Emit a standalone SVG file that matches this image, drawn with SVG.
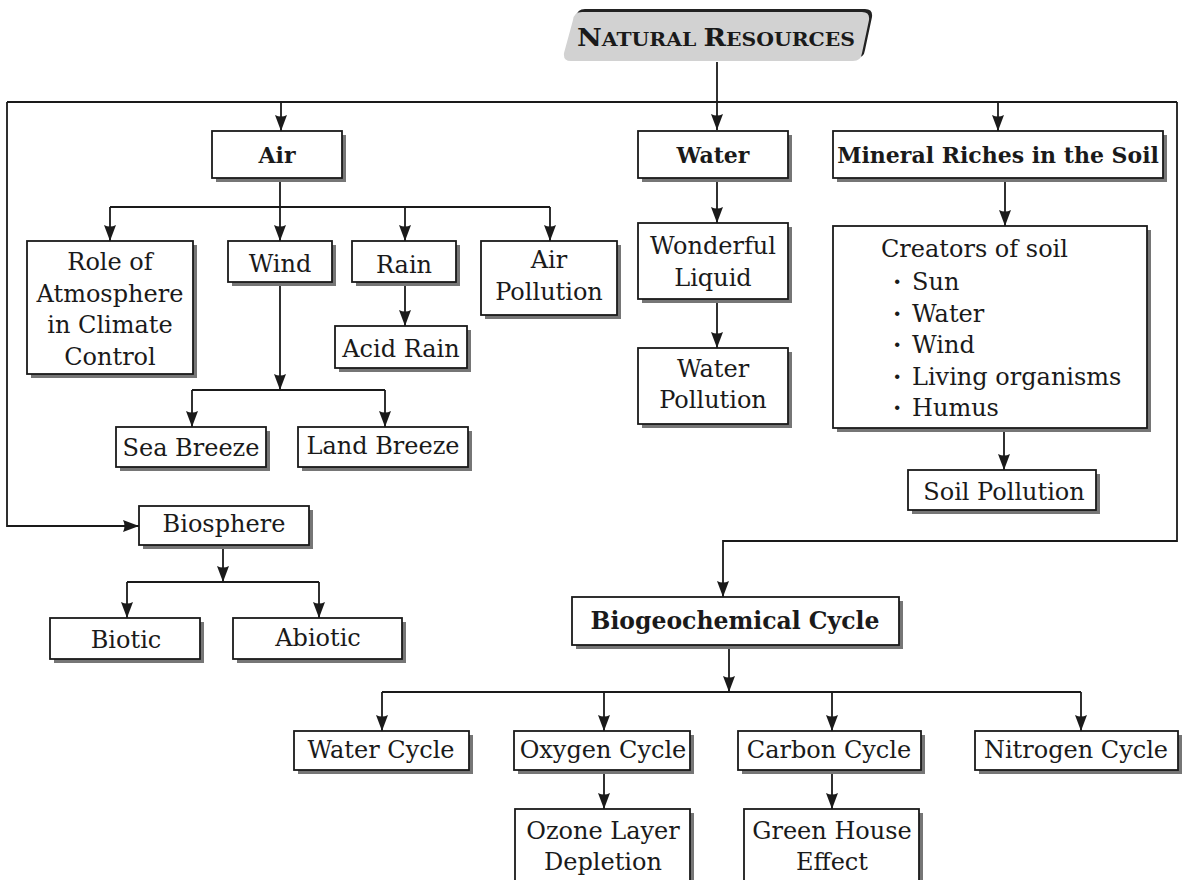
<svg xmlns="http://www.w3.org/2000/svg" width="1185" height="880" viewBox="0 0 1185 880">
<style>
.box{fill:#fff;stroke:#1a1a1a;stroke-width:1.8}
.sh{fill:#767676}
.t{font-family:"DejaVu Serif",serif;font-size:24px;fill:#1a1a1a;text-anchor:middle}
.l{text-anchor:start}
.b{font-weight:bold;font-size:22px}
.bb{font-size:23.5px}
.c{fill:none;stroke:#1a1a1a;stroke-width:1.8}
.a{marker-end:url(#arr)}
</style>
<defs>
<marker id="arr" markerUnits="userSpaceOnUse" markerWidth="16" markerHeight="12" refX="16" refY="6" orient="auto">
<path d="M0,0 L16,6 L0,12 Q3,6 0,0 Z" fill="#1a1a1a"/>
</marker>
</defs>
<rect width="1185" height="880" fill="#fff"/>

<g id="connectors">
<path class="c a" d="M717,62 V130"/>
<path class="c" d="M7,102 H1177"/>
<path class="c a" d="M7,102 V526 H139"/>
<path class="c a" d="M1177,102 V541 H723 V597"/>
<path class="c a" d="M281,102 V131"/>
<path class="c a" d="M998,102 V131"/>
<path class="c" d="M280,178 V207 M110,207 H550"/>
<path class="c a" d="M110,207 V241"/>
<path class="c a" d="M280,207 V241"/>
<path class="c a" d="M405,207 V241"/>
<path class="c a" d="M550,207 V241"/>
<path class="c a" d="M405,282 V326"/>
<path class="c a" d="M280,282 V390"/>
<path class="c" d="M192,390 H385"/>
<path class="c a" d="M192,390 V427"/>
<path class="c a" d="M385,390 V427"/>
<path class="c a" d="M223,545 V582"/>
<path class="c" d="M127,582 H319"/>
<path class="c a" d="M127,582 V618"/>
<path class="c a" d="M319,582 V618"/>
<path class="c a" d="M717,178 V223"/>
<path class="c a" d="M717,299 V348"/>
<path class="c a" d="M1005,178 V226"/>
<path class="c a" d="M1004,428 V470"/>
<path class="c a" d="M729,645 V692"/>
<path class="c" d="M382,692 H1081"/>
<path class="c a" d="M382,692 V731"/>
<path class="c a" d="M604,692 V731"/>
<path class="c a" d="M832,692 V731"/>
<path class="c a" d="M1081,692 V731"/>
<path class="c a" d="M604,770 V809"/>
<path class="c a" d="M832,770 V809"/>
</g>

<g id="natural-resources">
<path d="M585,9 H865 Q873,9 872,17 L865,50 Q864,58 856,58 H574 Q566,58 567,50 L576,17 Q577,9 585,9 Z" fill="#222"/>
<path d="M582,12 H862 Q870,12 869,20 L862,53 Q861,61 853,61 H571 Q563,61 564,53 L573,20 Q574,12 582,12 Z" fill="#d2d2d2"/>
<text class="t" x="716" y="46" font-weight="bold" textLength="278" lengthAdjust="spacingAndGlyphs"><tspan font-size="24">N</tspan><tspan font-size="18">ATURAL </tspan><tspan font-size="24">R</tspan><tspan font-size="18">ESOURCES</tspan></text>
</g>

<g id="air">
<rect class="sh" x="216" y="135" width="130" height="47"/>
<rect class="box" x="212" y="131" width="130" height="47"/>
<text class="t b" x="277" y="163">Air</text>
</g>
<g id="water">
<rect class="sh" x="642" y="135" width="150" height="47"/>
<rect class="box" x="638" y="131" width="150" height="47"/>
<text class="t b" x="713" y="163">Water</text>
</g>
<g id="mineral">
<rect class="sh" x="837" y="135" width="330" height="47"/>
<rect class="box" x="833" y="131" width="330" height="47"/>
<text class="t b" x="998" y="163">Mineral Riches in the Soil</text>
</g>

<g id="role">
<rect class="sh" x="31" y="245" width="166" height="133"/>
<rect class="box" x="27" y="241" width="166" height="133"/>
<text class="t" x="110" y="270">Role of</text>
<text class="t" x="110" y="302">Atmosphere</text>
<text class="t" x="110" y="333">in Climate</text>
<text class="t" x="110" y="365">Control</text>
</g>
<g id="wind">
<rect class="sh" x="232" y="245" width="104" height="41"/>
<rect class="box" x="228" y="241" width="104" height="41"/>
<text class="t" x="280" y="272">Wind</text>
</g>
<g id="rain">
<rect class="sh" x="356" y="245" width="104" height="41"/>
<rect class="box" x="352" y="241" width="104" height="41"/>
<text class="t" x="404" y="273">Rain</text>
</g>
<g id="air-pollution">
<rect class="sh" x="485" y="245" width="136" height="74"/>
<rect class="box" x="481" y="241" width="136" height="74"/>
<text class="t" x="549" y="268">Air</text>
<text class="t" x="549" y="300">Pollution</text>
</g>
<g id="acid-rain">
<rect class="sh" x="339" y="330" width="132" height="42"/>
<rect class="box" x="335" y="326" width="132" height="42"/>
<text class="t" x="401" y="357">Acid Rain</text>
</g>
<g id="sea-breeze">
<rect class="sh" x="120" y="431" width="150" height="40"/>
<rect class="box" x="116" y="427" width="150" height="40"/>
<text class="t" x="191" y="456">Sea Breeze</text>
</g>
<g id="land-breeze">
<rect class="sh" x="302" y="431" width="170" height="40"/>
<rect class="box" x="298" y="427" width="170" height="40"/>
<text class="t" x="383" y="454">Land Breeze</text>
</g>

<g id="biosphere">
<rect class="sh" x="143" y="510" width="170" height="39"/>
<rect class="box" x="139" y="506" width="170" height="39"/>
<text class="t" x="224" y="532">Biosphere</text>
</g>
<g id="biotic">
<rect class="sh" x="54" y="622" width="150" height="41"/>
<rect class="box" x="50" y="618" width="150" height="41"/>
<text class="t" x="126" y="648">Biotic</text>
</g>
<g id="abiotic">
<rect class="sh" x="237" y="622" width="169" height="41"/>
<rect class="box" x="233" y="618" width="169" height="41"/>
<text class="t" x="318" y="646">Abiotic</text>
</g>

<g id="wonderful-liquid">
<rect class="sh" x="642" y="227" width="150" height="76"/>
<rect class="box" x="638" y="223" width="150" height="76"/>
<text class="t" x="713" y="254">Wonderful</text>
<text class="t" x="713" y="286">Liquid</text>
</g>
<g id="water-pollution">
<rect class="sh" x="642" y="352" width="150" height="76"/>
<rect class="box" x="638" y="348" width="150" height="76"/>
<text class="t" x="713" y="377">Water</text>
<text class="t" x="713" y="408">Pollution</text>
</g>

<g id="creators">
<rect class="sh" x="837" y="230" width="314" height="202"/>
<rect class="box" x="833" y="226" width="314" height="202"/>
<text class="t l" x="881" y="257">Creators of soil</text>
<text class="t l" x="893" y="290"><tspan font-weight="bold">·</tspan><tspan x="912">Sun</tspan></text>
<text class="t l" x="893" y="322"><tspan font-weight="bold">·</tspan><tspan x="912">Water</tspan></text>
<text class="t l" x="893" y="353"><tspan font-weight="bold">·</tspan><tspan x="912">Wind</tspan></text>
<text class="t l" x="893" y="385"><tspan font-weight="bold">·</tspan><tspan x="912">Living organisms</tspan></text>
<text class="t l" x="893" y="416"><tspan font-weight="bold">·</tspan><tspan x="912">Humus</tspan></text>
</g>
<g id="soil-pollution">
<rect class="sh" x="912" y="474" width="188" height="40"/>
<rect class="box" x="908" y="470" width="188" height="40"/>
<text class="t" x="1004" y="500">Soil Pollution</text>
</g>

<g id="biogeochemical">
<rect class="sh" x="576" y="601" width="327" height="48"/>
<rect class="box" x="572" y="597" width="327" height="48"/>
<text class="t b bb" x="735" y="629">Biogeochemical Cycle</text>
</g>
<g id="water-cycle">
<rect class="sh" x="298" y="735" width="175" height="39"/>
<rect class="box" x="294" y="731" width="175" height="39"/>
<text class="t" x="381" y="758">Water Cycle</text>
</g>
<g id="oxygen-cycle">
<rect class="sh" x="518" y="735" width="176" height="39"/>
<rect class="box" x="514" y="731" width="176" height="39"/>
<text class="t" x="603" y="758">Oxygen Cycle</text>
</g>
<g id="carbon-cycle">
<rect class="sh" x="742" y="735" width="183" height="39"/>
<rect class="box" x="738" y="731" width="183" height="39"/>
<text class="t" x="829" y="758">Carbon Cycle</text>
</g>
<g id="nitrogen-cycle">
<rect class="sh" x="979" y="735" width="203" height="39"/>
<rect class="box" x="975" y="731" width="203" height="39"/>
<text class="t" x="1076" y="758">Nitrogen Cycle</text>
</g>
<g id="ozone">
<rect class="sh" x="519" y="813" width="175" height="90"/>
<rect class="box" x="515" y="809" width="175" height="90"/>
<text class="t" x="603" y="839">Ozone Layer</text>
<text class="t" x="603" y="870">Depletion</text>
</g>
<g id="greenhouse">
<rect class="sh" x="748" y="813" width="175" height="90"/>
<rect class="box" x="744" y="809" width="175" height="90"/>
<text class="t" x="832" y="839">Green House</text>
<text class="t" x="832" y="870">Effect</text>
</g>
</svg>
